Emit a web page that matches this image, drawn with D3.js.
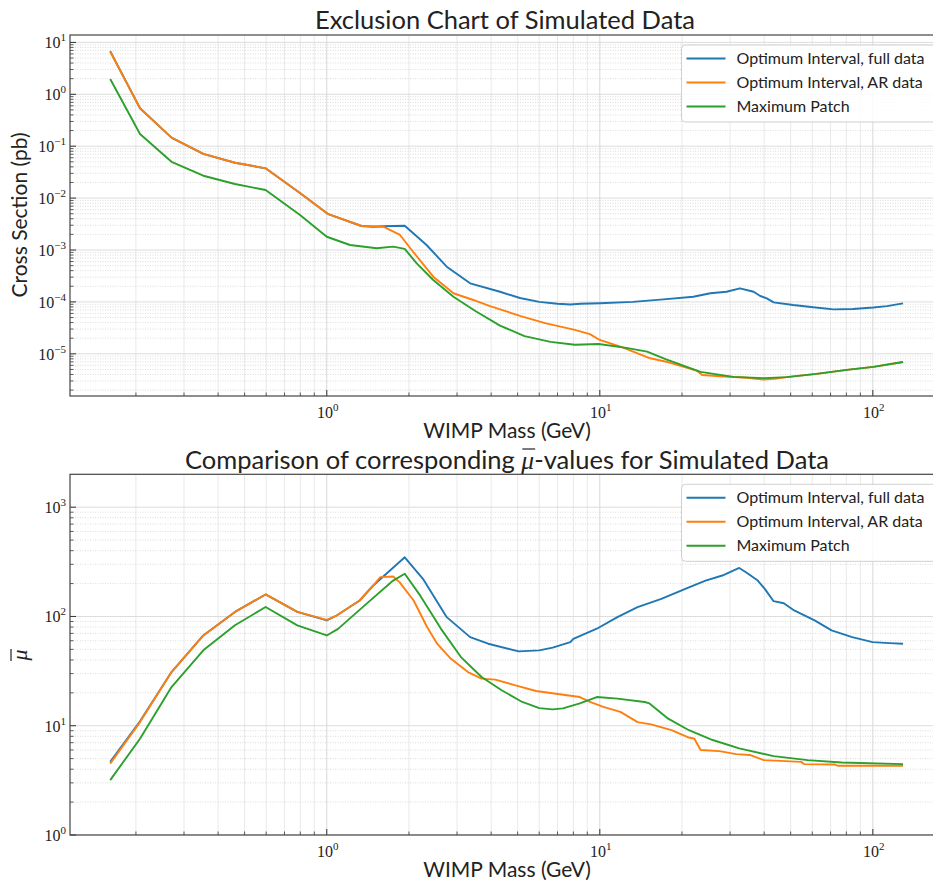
<!DOCTYPE html>
<html>
<head>
<meta charset="utf-8">
<script src="https://cdn.jsdelivr.net/npm/d3@7"></script>
<style>
  body { margin: 0; background: #fff; }
  text { fill: #222; }
</style>
</head>
<body>
<div id="chart"></div>
<script>
// ---- data ----
// top panel: cross section (pb) vs WIMP mass (GeV)
var topFullMass = [0.161, 0.207, 0.27, 0.353, 0.461, 0.597, 0.8, 1.013, 1.34, 1.48, 1.61, 1.93, 2.32, 2.75, 3.35, 4.31, 5.1, 6.0, 7.0, 7.8, 8.5, 10.0, 13.2, 17.1, 22.0, 25.4, 29.1, 32.6, 36.6, 38.7, 40.9, 43.3, 51.1, 60.5, 71.8, 84.6, 100.4, 112.6, 129];
var topFullVal = [6.8, 0.54, 0.146, 0.071, 0.048, 0.0375, 0.0124, 0.0049, 0.0029, 0.00281, 0.00287, 0.00294, 0.00125, 0.000477, 0.000228, 0.000157, 0.000119, 0.0001, 9.2e-5, 8.9e-5, 9.2e-5, 9.4e-5, 1.0e-4, 1.12e-4, 1.26e-4, 1.47e-4, 1.57e-4, 1.83e-4, 1.57e-4, 1.3e-4, 1.17e-4, 9.8e-5, 8.7e-5, 7.9e-5, 7.2e-5, 7.3e-5, 7.8e-5, 8.3e-5, 9.4e-5];

var topArMass = [0.161, 0.207, 0.27, 0.353, 0.461, 0.597, 0.8, 1.013, 1.34, 1.61, 1.855, 2.07, 2.455, 2.91, 3.44, 3.96, 5.1, 6.3, 8.1, 9.2, 10.0, 11.9, 15.3, 17.5, 20.3, 22.7, 23.7, 27.6, 34.5, 39.8, 44.5, 48.3, 62.2, 80.3, 100.4, 129];
var topArVal = [6.6, 0.54, 0.146, 0.071, 0.048, 0.0375, 0.0124, 0.0049, 0.0029, 0.00281, 0.00195, 0.000927, 0.000306, 0.000147, 0.000109, 8.3e-5, 5.4e-5, 3.9e-5, 2.9e-5, 2.4e-5, 1.85e-5, 1.37e-5, 8.2e-6, 7.05e-6, 5.6e-6, 4.7e-6, 3.9e-6, 3.7e-6, 3.45e-6, 3.2e-6, 3.35e-6, 3.55e-6, 4.1e-6, 4.9e-6, 5.6e-6, 6.95e-6];

var topPatchMass = [0.161, 0.207, 0.27, 0.353, 0.461, 0.597, 0.798, 1.0, 1.216, 1.523, 1.75, 1.93, 2.135, 2.455, 2.91, 3.5, 4.31, 5.3, 6.6, 8.1, 9.9, 12.5, 14.9, 17.5, 23.4, 30.8, 39.8, 48.3, 62.2, 80.3, 100.4, 129];
var topPatchVal = [1.97, 0.172, 0.05, 0.027, 0.0187, 0.0143, 0.00472, 0.0018, 0.00125, 0.00108, 0.00116, 0.00105, 0.000554, 0.000264, 0.000126, 6.7e-5, 3.5e-5, 2.2e-5, 1.7e-5, 1.5e-5, 1.55e-5, 1.3e-5, 1.1e-5, 7.8e-6, 4.5e-6, 3.6e-6, 3.4e-6, 3.55e-6, 4.1e-6, 4.9e-6, 5.6e-6, 6.95e-6];

// bottom panel: mu-bar vs WIMP mass (GeV)
var botFullMass = [0.161, 0.207, 0.27, 0.353, 0.461, 0.597, 0.78, 1.0, 1.087, 1.32, 1.48, 1.93, 2.25, 2.75, 3.35, 3.9, 5.05, 6.0, 6.72, 7.8, 8.0, 9.75, 11.6, 13.75, 16.8, 21.2, 24.4, 28.1, 32.4, 34.3, 37.9, 40.2, 43.3, 47.2, 51.5, 61.2, 70.6, 84.0, 99.8, 115, 129];
var botFullVal = [4.67, 11, 31, 67, 110, 159, 110, 92, 102, 140, 192, 348, 221, 98.6, 64.7, 56.3, 47.9, 48.9, 51.8, 58.2, 62.5, 77.2, 98.6, 121.7, 145, 185, 213, 237, 278, 254, 213, 179, 138, 132, 113.5, 92, 74.5, 64.7, 58.2, 57, 56.3];

var botArMass = [0.161, 0.207, 0.27, 0.353, 0.461, 0.597, 0.78, 1.0, 1.087, 1.32, 1.48, 1.57, 1.75, 1.85, 2.08, 2.33, 2.54, 2.85, 3.29, 3.69, 4.14, 4.91, 5.84, 7.13, 8.45, 9.2, 10.3, 11.9, 13.75, 15.4, 18.3, 21.2, 22.2, 23.4, 27.4, 31.6, 35.4, 39.9, 54.6, 56.1, 72.4, 74.6, 129];
var botArVal = [4.5, 10.8, 31, 67, 110, 159, 110, 93, 102, 140, 192, 229, 232, 205, 140, 80, 56, 41, 31, 27, 26.4, 23.4, 20.8, 19.4, 18.3, 16.5, 14.9, 13.4, 10.8, 10.3, 9.1, 7.8, 7.6, 6.0, 5.85, 5.5, 5.4, 4.84, 4.67, 4.45, 4.42, 4.3, 4.3];

var botPatchMass = [0.161, 0.207, 0.27, 0.353, 0.461, 0.597, 0.78, 1.0, 1.1, 1.4, 1.75, 1.93, 2.2, 2.62, 3.1, 3.69, 4.37, 5.2, 6.0, 6.72, 7.33, 8.45, 9.75, 11.6, 14.6, 15.2, 17.8, 21.2, 25.9, 32.4, 43.3, 57.7, 76.8, 129];
var botPatchVal = [3.18, 7.6, 22.6, 49, 83, 122, 83, 67, 77, 131, 213, 246, 155, 77, 42.5, 27.9, 21.1, 16.5, 14.5, 14.1, 14.4, 16.0, 18.3, 17.7, 16.5, 16.0, 11.6, 9.1, 7.4, 6.2, 5.27, 4.84, 4.61, 4.45];

var seriesLabels = ["Optimum Interval, full data", "Optimum Interval, AR data", "Maximum Patch"];
var seriesColors = ["#1f77b4", "#ff7f0e", "#2ca02c"];
var xTickExps = [-1, 0, 1, 2];

var w = 933, h = 882;
var sans = "Lato, 'Open Sans', sans-serif";
var serif = "'Liberation Serif', 'DejaVu Serif', serif";

var svg = d3.select("#chart").append("svg")
    .attr("width", w).attr("height", h);

// shared log x scale (axes run a little past the right edge of the picture)
var x = d3.scaleLog().domain([0.1147, 180.7]).range([70, 943]);

function zip(a, b) { return a.map(function (m, i) { return [m, b[i]]; }); }

function pow10Label(sel, e) {
    sel.append("tspan").text("10");
    sel.append("tspan").attr("dy", -7).attr("font-size", 11)
        .text(e < 0 ? "\u2212" + (-e) : e);
}

function drawPanel(p) {
    var y = d3.scaleLog().domain(p.yDomain).range([p.bottom, p.top]);
    var g = svg.append("g");
    var x0 = x.range()[0], x1 = x.range()[1];

    var clipId = "clip" + p.id;
    svg.append("clipPath").attr("id", clipId).append("rect")
        .attr("x", x0).attr("y", p.top).attr("width", x1 - x0).attr("height", p.bottom - p.top);

    // grid values
    var xMinor = [], xMajor = [];
    xTickExps.forEach(function (e) {
        xMajor.push(Math.pow(10, e));
        for (var k = 2; k < 10; k++) xMinor.push(k * Math.pow(10, e));
    });
    xMinor = xMinor.filter(function (v) { return v > x.domain()[0] && v < x.domain()[1]; });
    xMajor = xMajor.filter(function (v) { return v > x.domain()[0] && v < x.domain()[1]; });

    var yMinor = [], yMajor = [];
    p.yExps.forEach(function (e) {
        yMajor.push(Math.pow(10, e));
        for (var k = 2; k < 10; k++) yMinor.push(k * Math.pow(10, e));
    });
    yMinor = yMinor.filter(function (v) { return v > p.yDomain[0] && v < p.yDomain[1]; });
    yMajor = yMajor.filter(function (v) { return v >= p.yDomain[0] && v <= p.yDomain[1]; });

    var grid = g.append("g").attr("clip-path", "url(#" + clipId + ")");
    grid.selectAll("line.xmin").data(xMinor).enter().append("line")
        .attr("x1", d => x(d)).attr("x2", d => x(d))
        .attr("y1", p.top).attr("y2", p.bottom)
        .attr("stroke", "#e3e3e3").attr("stroke-width", 0.8);
    grid.selectAll("line.ymin").data(yMinor).enter().append("line")
        .attr("x1", x0).attr("x2", x1)
        .attr("y1", d => y(d)).attr("y2", d => y(d))
        .attr("stroke", "#cfcfcf").attr("stroke-width", 0.7)
        .attr("stroke-dasharray", "1,1.5");
    grid.selectAll("line.xmaj").data(xMajor).enter().append("line")
        .attr("x1", d => x(d)).attr("x2", d => x(d))
        .attr("y1", p.top).attr("y2", p.bottom)
        .attr("stroke", "#d4d4d4").attr("stroke-width", 0.9);
    grid.selectAll("line.ymaj").data(yMajor).enter().append("line")
        .attr("x1", x0).attr("x2", x1)
        .attr("y1", d => y(d)).attr("y2", d => y(d))
        .attr("stroke", "#d8d8d8").attr("stroke-width", 0.9);

    // series
    var line = d3.line().x(d => x(d[0])).y(d => y(d[1]));
    var lines = g.append("g").attr("clip-path", "url(#" + clipId + ")");
    p.series.forEach(function (s, i) {
        lines.append("path").datum(s)
            .attr("d", line)
            .attr("fill", "none")
            .attr("stroke", seriesColors[i])
            .attr("stroke-width", 1.9)
            .attr("stroke-linejoin", "round");
    });

    // inward ticks
    var ticks = g.append("g").attr("stroke", "#333");
    ticks.selectAll("line.xt").data(xMajor).enter().append("line")
        .attr("x1", d => x(d)).attr("x2", d => x(d))
        .attr("y1", p.bottom).attr("y2", p.bottom - 6).attr("stroke-width", 1);
    ticks.selectAll("line.xmt").data(xMinor).enter().append("line")
        .attr("x1", d => x(d)).attr("x2", d => x(d))
        .attr("y1", p.bottom).attr("y2", p.bottom - 3.5).attr("stroke-width", 0.8);
    ticks.selectAll("line.yt").data(yMajor).enter().append("line")
        .attr("x1", x0).attr("x2", x0 + 6)
        .attr("y1", d => y(d)).attr("y2", d => y(d)).attr("stroke-width", 1);
    ticks.selectAll("line.ymt").data(yMinor).enter().append("line")
        .attr("x1", x0).attr("x2", x0 + 3.5)
        .attr("y1", d => y(d)).attr("y2", d => y(d)).attr("stroke-width", 0.8);

    // frame
    g.append("rect")
        .attr("x", x0).attr("y", p.top)
        .attr("width", x1 - x0).attr("height", p.bottom - p.top)
        .attr("fill", "none").attr("stroke", "#444").attr("stroke-width", 1.2);

    // tick labels
    xMajor.forEach(function (v) {
        var t = g.append("text").attr("x", x(v) + 1).attr("y", p.bottom + 22)
            .attr("text-anchor", "middle").attr("font-family", serif)
            .attr("font-size", 16).attr("fill", "#333");
        pow10Label(t, Math.round(Math.log10(v)));
    });
    yMajor.forEach(function (v) {
        var t = g.append("text").attr("x", x0 - 4).attr("y", y(v) + 6)
            .attr("text-anchor", "end").attr("font-family", serif)
            .attr("font-size", 16).attr("fill", "#333");
        pow10Label(t, Math.round(Math.log10(v)));
    });

    // x label
    g.append("text").attr("x", 507).attr("y", p.bottom + 42)
        .attr("text-anchor", "middle").attr("font-family", sans)
        .attr("font-size", 21).text("WIMP Mass (GeV)");

    // legend
    var lg = g.append("g").attr("transform", "translate(681.5," + (p.top + 10) + ")");
    lg.append("rect").attr("width", 270).attr("height", 77).attr("rx", 4)
        .attr("fill", "#fff").attr("fill-opacity", 0.85)
        .attr("stroke", "#d0d0d0").attr("stroke-width", 1);
    seriesLabels.forEach(function (lab, i) {
        var yy = 13.5 + i * 24;
        lg.append("line").attr("x1", 5).attr("x2", 44).attr("y1", yy).attr("y2", yy)
            .attr("stroke", seriesColors[i]).attr("stroke-width", 1.9);
        lg.append("text").attr("x", 55).attr("y", yy + 5.5)
            .attr("font-family", sans).attr("font-size", 16).text(lab);
    });

    return { g: g, y: y };
}

var topPanel = drawPanel({
    id: "top", top: 35, bottom: 396,
    yDomain: [1.54e-6, 13.88], yExps: [-6, -5, -4, -3, -2, -1, 0, 1],
    series: [zip(topFullMass, topFullVal), zip(topArMass, topArVal), zip(topPatchMass, topPatchVal)]
});
var botPanel = drawPanel({
    id: "bot", top: 474.3, bottom: 835,
    yDomain: [1, 2000], yExps: [0, 1, 2, 3],
    series: [zip(botFullMass, botFullVal), zip(botArMass, botArVal), zip(botPatchMass, botPatchVal)]
});

// titles
svg.append("text").attr("x", 505).attr("y", 29)
    .attr("text-anchor", "middle").attr("font-family", sans)
    .attr("font-size", 25.5).text("Exclusion Chart of Simulated Data");

var t2 = svg.append("text").attr("x", 507).attr("y", 469)
    .attr("text-anchor", "middle").attr("font-family", sans).attr("font-size", 25.5);
t2.append("tspan").text("Comparison of corresponding ");
t2.append("tspan").attr("font-family", serif).attr("font-style", "italic").text("\u03bc");
t2.append("tspan").text("-values for Simulated Data");

// overline above the mu in the title
(function () {
    var node = t2.node();
    var idx = "Comparison of corresponding ".length;
    var a = node.getStartPositionOfChar(idx), b = node.getEndPositionOfChar(idx);
    svg.append("line").attr("x1", a.x + 1).attr("x2", b.x + 1)
        .attr("y1", 469 - 20).attr("y2", 469 - 20)
        .attr("stroke", "#222").attr("stroke-width", 1.2);
})();

// y labels
svg.append("text").attr("transform", "translate(27,215) rotate(-90)")
    .attr("text-anchor", "middle").attr("font-family", sans)
    .attr("font-size", 21).text("Cross Section (pb)");

svg.append("text").attr("transform", "translate(27,655) rotate(-90)")
    .attr("text-anchor", "middle").attr("font-family", serif)
    .attr("font-style", "italic").attr("font-size", 22).text("\u03bc");
svg.append("line").attr("x1", 11).attr("x2", 11).attr("y1", 649).attr("y2", 661)
    .attr("stroke", "#222").attr("stroke-width", 1.2);
</script>
</body>
</html>
